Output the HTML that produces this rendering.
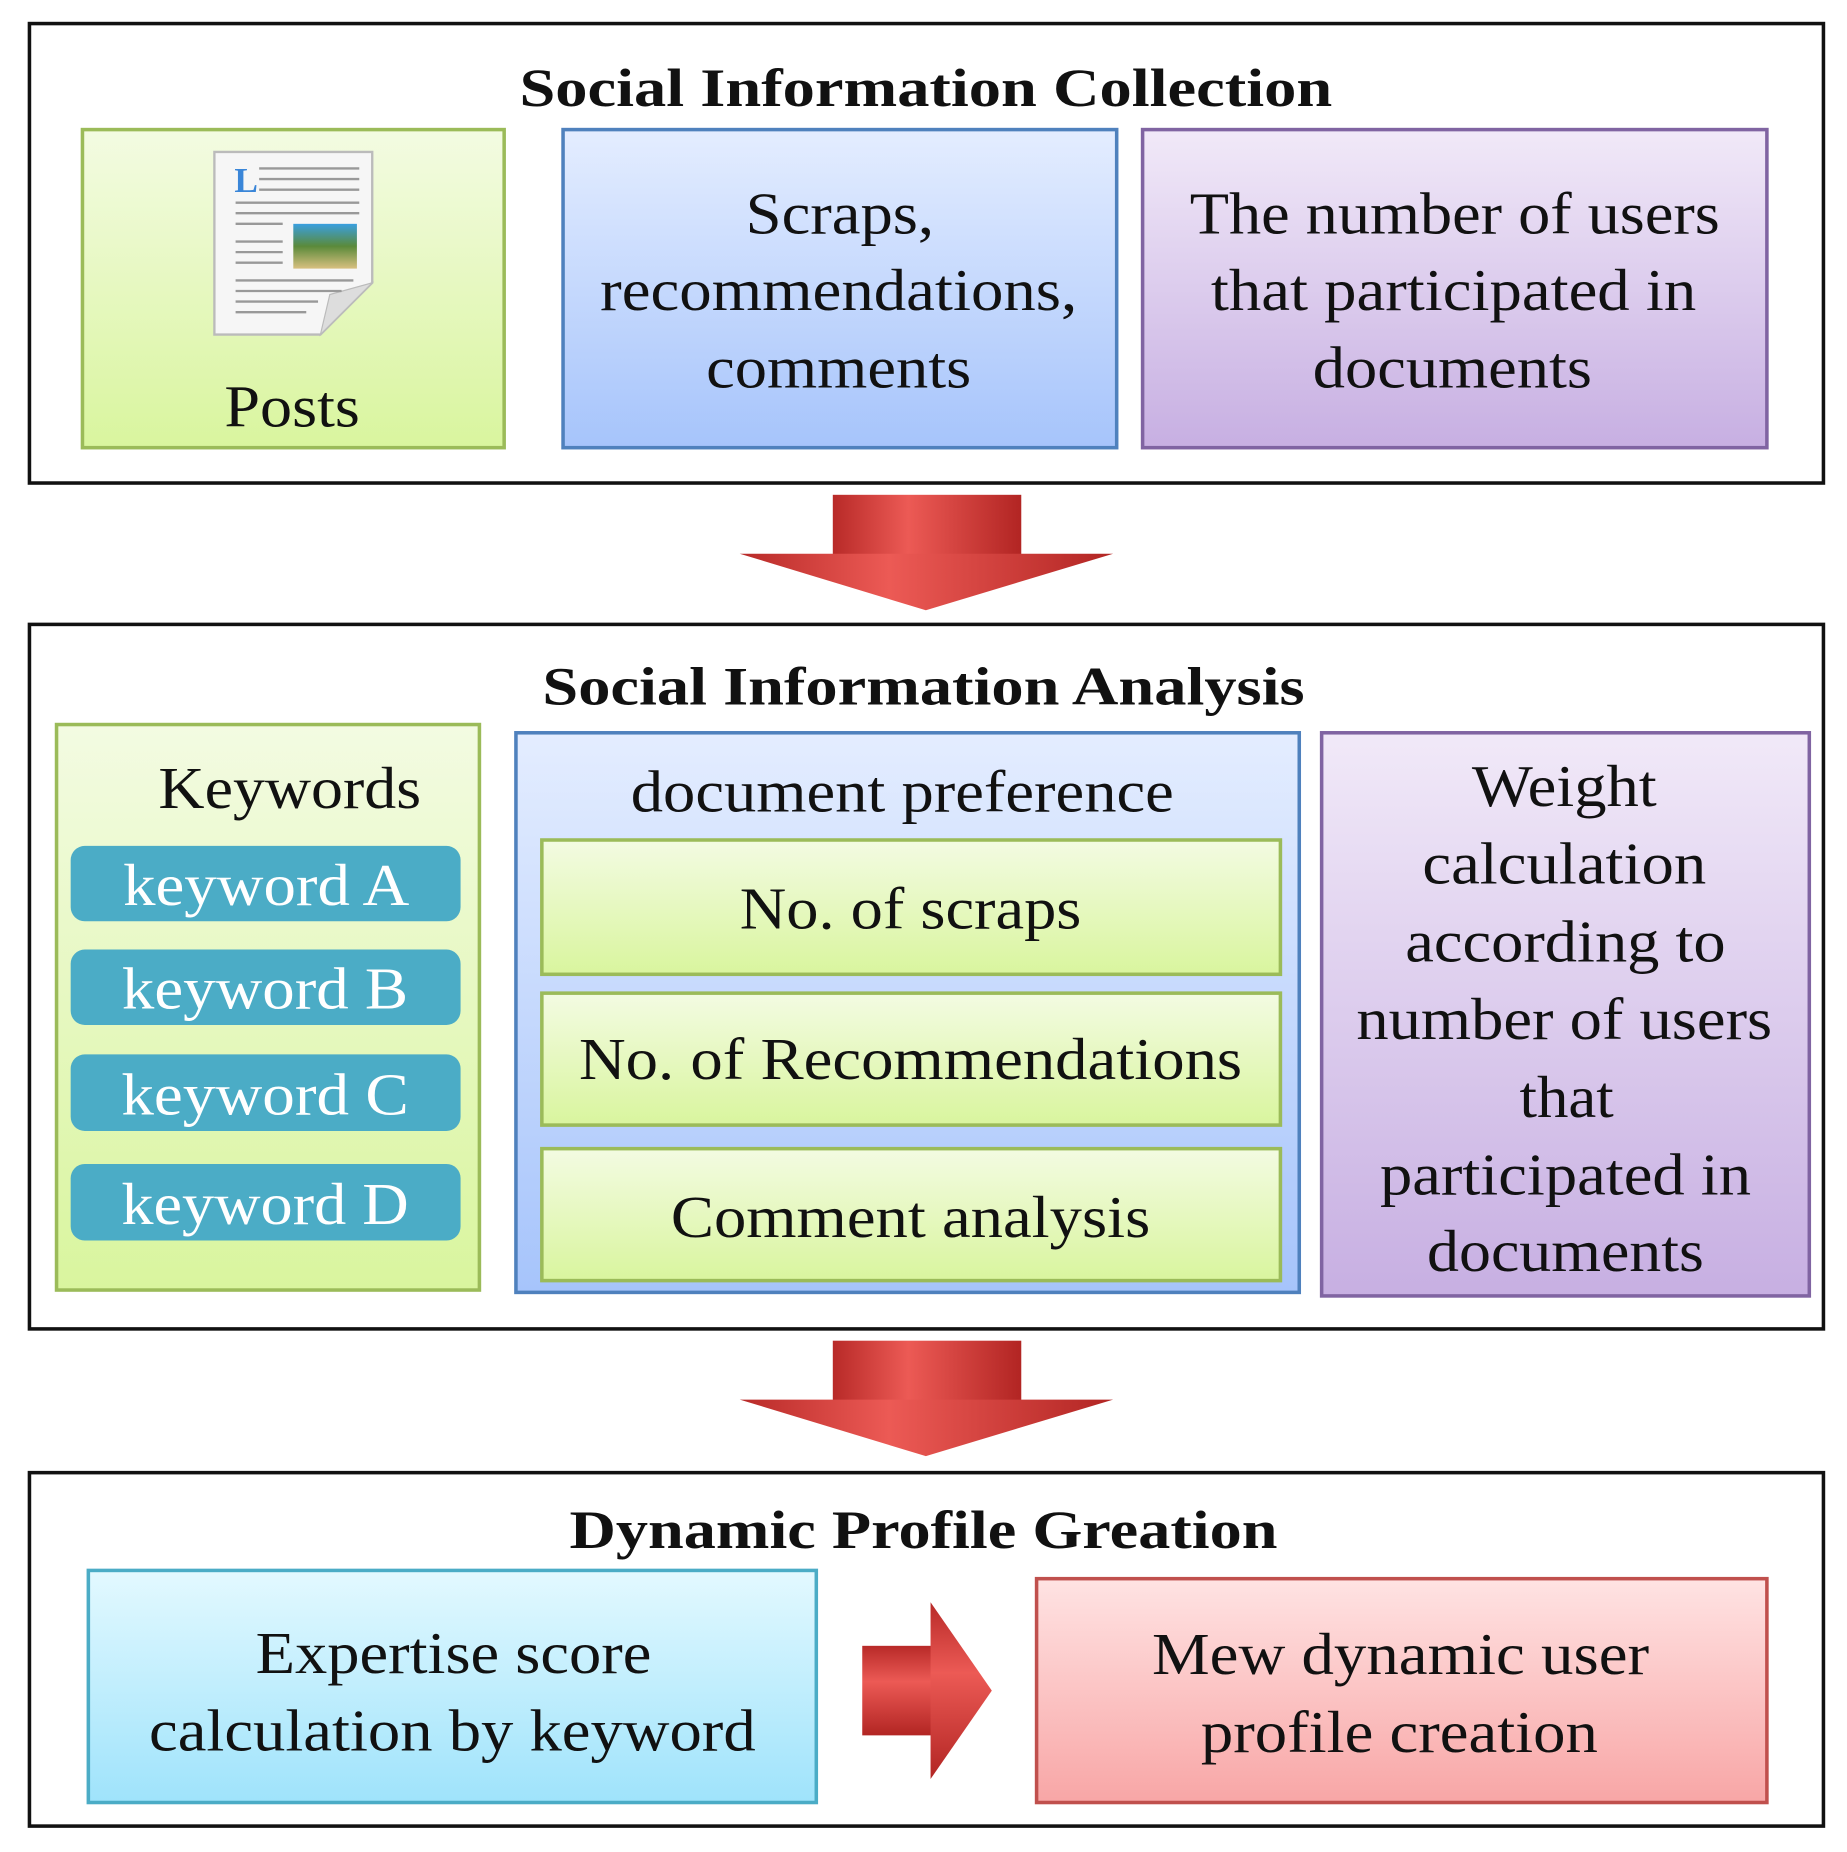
<!DOCTYPE html>
<html><head><meta charset="utf-8"><style>
html,body{margin:0;padding:0;background:#fff;}
svg{display:block;}
text{font-family:"Liberation Serif",serif;}
</style></head><body>
<svg width="1847" height="1852" viewBox="0 0 1568 1572" preserveAspectRatio="none" xmlns="http://www.w3.org/2000/svg">
<defs>
<linearGradient id="g" x1="0" y1="0" x2="0" y2="1"><stop offset="0" stop-color="#f3fbe2"/><stop offset="1" stop-color="#d9f59e"/></linearGradient>
<linearGradient id="b" x1="0" y1="0" x2="0" y2="1"><stop offset="0" stop-color="#e4edff"/><stop offset="1" stop-color="#a6c4fb"/></linearGradient>
<linearGradient id="p" x1="0" y1="0" x2="0" y2="1"><stop offset="0" stop-color="#f1e9f8"/><stop offset="1" stop-color="#c7afe2"/></linearGradient>
<linearGradient id="c" x1="0" y1="0" x2="0" y2="1"><stop offset="0" stop-color="#e3f9ff"/><stop offset="1" stop-color="#9fe3fb"/></linearGradient>
<linearGradient id="r" x1="0" y1="0" x2="0" y2="1"><stop offset="0" stop-color="#ffe3e3"/><stop offset="1" stop-color="#f8a6a6"/></linearGradient>
<linearGradient id="ar" x1="0" y1="0" x2="1" y2="0"><stop offset="0" stop-color="#b82a28"/><stop offset="0.4" stop-color="#ec5a55"/><stop offset="1" stop-color="#b22523"/></linearGradient>
<linearGradient id="arv" x1="0" y1="0" x2="0" y2="1"><stop offset="0" stop-color="#b82a28"/><stop offset="0.4" stop-color="#ec5a55"/><stop offset="1" stop-color="#b22523"/></linearGradient>
<linearGradient id="sky" x1="0" y1="0" x2="0" y2="1"><stop offset="0" stop-color="#3aa0e0"/><stop offset="0.5" stop-color="#5a8a3a"/><stop offset="1" stop-color="#d8c080"/></linearGradient>
</defs>
<g stroke="#111" stroke-width="3" fill="none">
<rect x="25" y="20" width="1523" height="390"/>
<rect x="25" y="530" width="1523" height="598"/>
<rect x="25" y="1250" width="1523" height="300"/>
</g>
<g font-weight="bold" font-size="46" text-anchor="middle" fill="#111" lengthAdjust="spacingAndGlyphs">
<text x="786" y="90" textLength="690" lengthAdjust="spacingAndGlyphs">Social Information Collection</text>
<text x="784" y="598" textLength="647" lengthAdjust="spacingAndGlyphs">Social Information Analysis</text>
<text x="784" y="1314" textLength="601" lengthAdjust="spacingAndGlyphs">Dynamic Profile Greation</text>
</g>
<g stroke-width="3">
<rect x="70" y="110" width="358" height="270" fill="url(#g)" stroke="#9bbb59"/>
<rect x="478" y="110" width="470" height="270" fill="url(#b)" stroke="#4f81bd"/>
<rect x="970" y="110" width="530" height="270" fill="url(#p)" stroke="#8064a2"/>
<rect x="48" y="615" width="359" height="480" fill="url(#g)" stroke="#9bbb59"/>
<rect x="438" y="622" width="665" height="475" fill="url(#b)" stroke="#4f81bd"/>
<rect x="1122" y="622" width="414" height="478" fill="url(#p)" stroke="#8064a2"/>
<rect x="460" y="713" width="627" height="114" fill="url(#g)" stroke="#9bbb59"/>
<rect x="460" y="843" width="627" height="112" fill="url(#g)" stroke="#9bbb59"/>
<rect x="460" y="975" width="627" height="112" fill="url(#g)" stroke="#9bbb59"/>
<rect x="75" y="1333" width="618" height="197" fill="url(#c)" stroke="#4bacc6"/>
<rect x="880" y="1340" width="620" height="190" fill="url(#r)" stroke="#c0504d"/>
</g>
<g fill="#4bacc6">
<rect x="60" y="718" width="331" height="64" rx="12"/>
<rect x="60" y="806" width="331" height="64" rx="12"/>
<rect x="60" y="895" width="331" height="65" rx="12"/>
<rect x="60" y="988" width="331" height="65" rx="12"/>
</g>
<path d="M182 129 H316 V240 L272 284 H182 Z" fill="#f6f6f6" stroke="#bbb" stroke-width="2"/>
<path d="M316 240 L272 284 L280 250 Z" fill="#ddd" stroke="#bbb" stroke-width="1"/>
<text x="199" y="163" font-size="30" fill="#3a86d8" font-weight="bold">L</text>
<g stroke="#999" stroke-width="2">
<line x1="220" y1="143" x2="305" y2="143"/><line x1="220" y1="152" x2="305" y2="152"/><line x1="220" y1="161" x2="305" y2="161"/>
<line x1="200" y1="172" x2="305" y2="172"/><line x1="200" y1="181" x2="305" y2="181"/><line x1="200" y1="190" x2="240" y2="190"/>
<line x1="200" y1="205" x2="240" y2="205"/><line x1="200" y1="214" x2="240" y2="214"/><line x1="200" y1="223" x2="240" y2="223"/>
<line x1="200" y1="238" x2="300" y2="238"/><line x1="200" y1="247" x2="290" y2="247"/><line x1="200" y1="256" x2="270" y2="256"/><line x1="200" y1="265" x2="260" y2="265"/>
</g>
<rect x="249" y="190" width="54" height="38" fill="url(#sky)"/>
<rect x="707" y="420" width="160" height="52" fill="url(#ar)"/>
<polygon points="628,470 945,470 786,518" fill="url(#ar)"/>
<rect x="707" y="1138" width="160" height="52" fill="url(#ar)"/>
<polygon points="628,1188 945,1188 786,1236" fill="url(#ar)"/>
<rect x="732" y="1397" width="60" height="76" fill="url(#arv)"/>
<polygon points="790,1360 842,1435 790,1510" fill="url(#arv)"/>
<g font-size="50" text-anchor="middle" fill="#111">
<text x="248" y="362" textLength="115" lengthAdjust="spacingAndGlyphs">Posts</text>
<text x="713" y="198" textLength="160" lengthAdjust="spacingAndGlyphs">Scraps,</text>
<text x="712" y="263" textLength="405" lengthAdjust="spacingAndGlyphs">recommendations,</text>
<text x="712" y="329" textLength="225" lengthAdjust="spacingAndGlyphs">comments</text>
<text x="1235" y="198" textLength="450" lengthAdjust="spacingAndGlyphs">The number of users</text>
<text x="1234" y="263" textLength="412" lengthAdjust="spacingAndGlyphs">that participated in</text>
<text x="1233" y="329" textLength="237" lengthAdjust="spacingAndGlyphs">documents</text>
<text x="246" y="686" textLength="223" lengthAdjust="spacingAndGlyphs">Keywords</text>
<text x="766" y="689" textLength="461" lengthAdjust="spacingAndGlyphs">document preference</text>
<text x="773" y="788" textLength="290" lengthAdjust="spacingAndGlyphs">No. of scraps</text>
<text x="773" y="916" textLength="563" lengthAdjust="spacingAndGlyphs">No. of Recommendations</text>
<text x="773" y="1050" textLength="407" lengthAdjust="spacingAndGlyphs">Comment analysis</text>
<text x="1328" y="684" textLength="157" lengthAdjust="spacingAndGlyphs">Weight</text>
<text x="1328" y="750" textLength="241" lengthAdjust="spacingAndGlyphs">calculation</text>
<text x="1329" y="816" textLength="272" lengthAdjust="spacingAndGlyphs">according to</text>
<text x="1328" y="882" textLength="353" lengthAdjust="spacingAndGlyphs">number of users</text>
<text x="1330" y="948" textLength="80" lengthAdjust="spacingAndGlyphs">that</text>
<text x="1329" y="1014" textLength="315" lengthAdjust="spacingAndGlyphs">participated in</text>
<text x="1329" y="1079" textLength="235" lengthAdjust="spacingAndGlyphs">documents</text>
<text x="385" y="1420" textLength="336" lengthAdjust="spacingAndGlyphs">Expertise score</text>
<text x="384" y="1486" textLength="515" lengthAdjust="spacingAndGlyphs">calculation by keyword</text>
<text x="1189" y="1421" textLength="422" lengthAdjust="spacingAndGlyphs">Mew dynamic user</text>
<text x="1188" y="1487" textLength="337" lengthAdjust="spacingAndGlyphs">profile creation</text>
</g>
<g font-size="50" text-anchor="middle" fill="#fff">
<text x="226" y="768" textLength="243" lengthAdjust="spacingAndGlyphs">keyword A</text>
<text x="225" y="856" textLength="243" lengthAdjust="spacingAndGlyphs">keyword B</text>
<text x="225" y="946" textLength="244" lengthAdjust="spacingAndGlyphs">keyword C</text>
<text x="225" y="1039" textLength="244" lengthAdjust="spacingAndGlyphs">keyword D</text>
</g>
</svg>
</body></html>
